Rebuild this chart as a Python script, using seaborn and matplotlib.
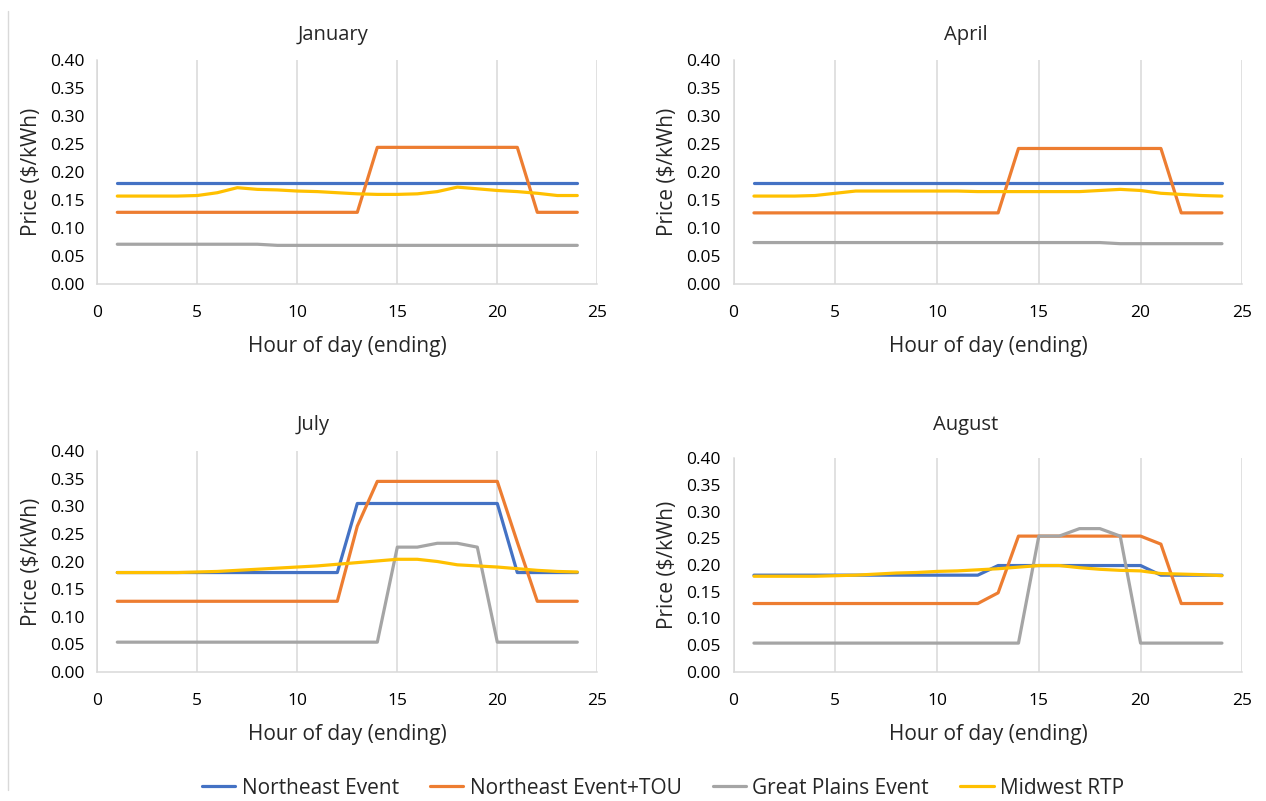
import numpy as np
import pandas as pd
import matplotlib
matplotlib.use("Agg")
import matplotlib.pyplot as plt
import seaborn as sns
from matplotlib.lines import Line2D

# ---------- DATA ----------
hours = list(range(1, 25))
series_names = ["Northeast Event", "Northeast Event+TOU", "Great Plains Event", "Midwest RTP"]
months = ["January", "April", "July", "August"]

jan_ne = [0.180] * 24
jan_ne_tou = [0.128] * 13 + [0.244] * 8 + [0.128] * 3
jan_gp = [0.071] * 8 + [0.069] * 16
jan_rtp = [0.157, 0.157, 0.157, 0.157, 0.158, 0.163, 0.172, 0.169, 0.168, 0.166,
           0.165, 0.163, 0.161, 0.160, 0.160, 0.161, 0.165, 0.173, 0.170, 0.167,
           0.165, 0.162, 0.158, 0.158]

apr_ne = [0.181] * 24
apr_ne_tou = [0.127] * 13 + [0.242] * 8 + [0.127] * 3
apr_gp = [0.074] * 18 + [0.072] * 6
apr_rtp = [0.157, 0.157, 0.157, 0.158, 0.162, 0.166, 0.166, 0.166, 0.166, 0.166,
           0.166, 0.165, 0.165, 0.165, 0.165, 0.165, 0.165, 0.167, 0.169, 0.167,
           0.162, 0.160, 0.158, 0.157]

jul_ne = [0.180] * 12 + [0.305] * 8 + [0.180] * 4
jul_ne_tou = [0.128] * 12 + [0.264] + [0.345] * 7 + [0.235, 0.128, 0.128, 0.128]
jul_gp = [0.054] * 14 + [0.226, 0.226, 0.233, 0.233, 0.226] + [0.054] * 5
jul_rtp = [0.180, 0.180, 0.180, 0.180, 0.181, 0.182, 0.184, 0.186, 0.188, 0.190,
           0.192, 0.195, 0.198, 0.201, 0.204, 0.204, 0.200, 0.194, 0.192, 0.190,
           0.187, 0.184, 0.182, 0.181]

aug_ne = [0.181] * 12 + [0.199] * 8 + [0.181] * 4
aug_ne_tou = [0.128] * 12 + [0.148] + [0.254] * 7 + [0.239, 0.128, 0.128, 0.128]
aug_gp = [0.054] * 14 + [0.254, 0.254, 0.268, 0.268, 0.254] + [0.054] * 5
aug_rtp = [0.179, 0.179, 0.179, 0.179, 0.180, 0.181, 0.183, 0.185, 0.186, 0.188,
           0.189, 0.191, 0.193, 0.196, 0.199, 0.199, 0.195, 0.192, 0.190, 0.189,
           0.184, 0.183, 0.182, 0.180]

month_data = {
    "January": [jan_ne, jan_ne_tou, jan_gp, jan_rtp],
    "April": [apr_ne, apr_ne_tou, apr_gp, apr_rtp],
    "July": [jul_ne, jul_ne_tou, jul_gp, jul_rtp],
    "August": [aug_ne, aug_ne_tou, aug_gp, aug_rtp],
}

# long-form table for seaborn
rows = []
for m in months:
    for name, vals in zip(series_names, month_data[m]):
        for h, v in zip(hours, vals):
            rows.append({"month": m, "series": name, "hour": h, "price": v})
df = pd.DataFrame(rows)

# ---------- STYLE ----------
sns.set_style("white")
plt.rcParams["font.family"] = ["Open Sans", "DejaVu Sans"]
colors = ["#4472C4", "#ED7D31", "#A5A5A5", "#FFC000"]
palette = dict(zip(series_names, colors))
grid_c = "#D9D9D9"
W, H = 1266, 801

fig = plt.figure(figsize=(12.66, 8.01), dpi=100)

# axes rectangles in pixels: left, right, top, bottom
rects = {
    "January": (97.3, 597.3, 60, 284),
    "April": (733.6, 1242.3, 60, 284),
    "July": (97.3, 597.3, 451, 672),
    "August": (733.6, 1242.3, 458, 672),
}
title_pos = {"January": (333, 35), "April": (966, 35), "July": (313, 425), "August": (966, 425)}

for m in months:
    l, r, t, b = rects[m]
    ax = fig.add_axes([l / W, 1 - b / H, (r - l) / W, (b - t) / H])
    sns.lineplot(data=df[df["month"] == m], x="hour", y="price", hue="series",
                 palette=palette, hue_order=series_names, linewidth=2.3,
                 legend=False, ax=ax)
    ax.set_xlim(0, 25)
    ax.set_ylim(0, 0.40)
    ax.set_xticks(range(0, 26, 5))
    ax.set_yticks(np.arange(0, 0.41, 0.05))
    ax.set_yticklabels([f"{v:.2f}" for v in np.arange(0, 0.41, 0.05)])
    ax.tick_params(length=0, labelsize=12.5, colors="#000000")
    ax.tick_params(axis="y", pad=9)
    ax.tick_params(axis="x", pad=15)
    ax.xaxis.grid(True, color=grid_c, linewidth=1.1)
    ax.yaxis.grid(False)
    ax.set_axisbelow(True)
    for s in ["top", "right"]:
        ax.spines[s].set_visible(False)
    for s in ["left", "bottom"]:
        ax.spines[s].set_color(grid_c)
        ax.spines[s].set_linewidth(1.1)
    ax.set_xlabel("Hour of day (ending)", fontsize=15, labelpad=11)
    ax.set_ylabel("Price ($/kWh)", fontsize=15, labelpad=6)
    tx, ty = title_pos[m]
    fig.text(tx / W, 1 - ty / H, m, ha="center", va="center", fontsize=14.5)

# faint chart-area edge at the left
fig.add_artist(Line2D([8 / W, 8 / W], [1 - 11 / H, 1 - 790 / H], color="#D9D9D9", linewidth=1))

handles = [Line2D([0], [0], color=c, linewidth=2.3) for c in colors]
fig.legend(handles, series_names, loc="center", ncol=4, frameon=False,
           bbox_to_anchor=(663 / W, 1 - 788 / H), fontsize=15,
           handlelength=1.6, handletextpad=0.3, columnspacing=1.5)

fig.savefig("out.png", dpi=100)
